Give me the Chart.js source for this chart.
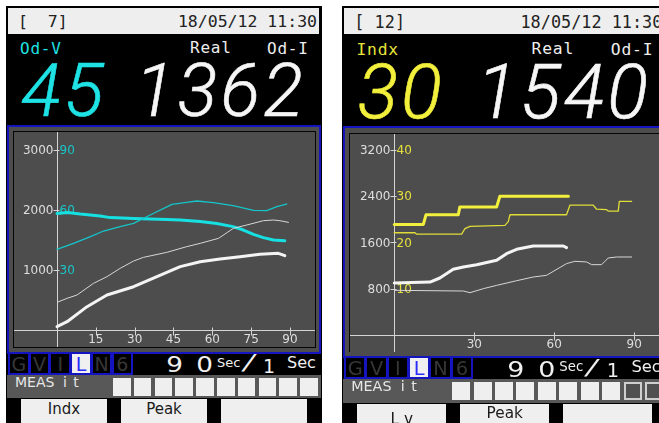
<!DOCTYPE html>
<html>
<head>
<meta charset="utf-8">
<script src="https://cdn.jsdelivr.net/npm/chart.js@4.4.1/dist/chart.umd.min.js"></script>
<style>
  html, body { margin: 0; padding: 0; background: #ffffff; }
  body { width: 659px; height: 423px; overflow: hidden; position: relative; }
  .a { position: absolute; box-sizing: border-box; }
  .t { position: absolute; white-space: pre; line-height: 1; }
  canvas { position: absolute; display: block; }
</style>
</head>
<body>
<script>
// ---------- Screen 1: time trend, Od-V / Od-I ----------
const xTicks1 = [15, 30, 45, 60, 75, 90];
const yTicks1 = [1000, 2000, 3000];          // Od-I scale
const yTicks1V = [30, 60, 90];               // Od-V scale

// Od-V (current run), seconds / volts
const odVTime = [0, 4, 9, 16.7, 20.6, 29.6, 42.4, 47.6, 55.3, 61.7, 68, 72, 75.9, 79.7, 83.6, 88];
const odVNow  = [58.3, 58.8, 58.0, 57.0, 56.2, 55.8, 55.3, 55.0, 54.2, 53.3, 51.7, 50.0, 47.8, 46.2, 45.0, 44.6];
// Od-V (stored run)
const odVRefTime = [0, 6.4, 12.9, 18, 24.4, 29.6, 36, 44.4, 50.1, 54, 60.4, 68, 75.9, 81, 84.9, 88.7];
const odVRef     = [40.3, 43.3, 46.7, 49.5, 51.7, 53.3, 57.5, 62.8, 63.8, 64.5, 63.7, 62.2, 59.8, 59.7, 61.7, 63.0];
// Od-I (current run)
const odI1Time = [0, 3.9, 11.6, 19.3, 29.6, 38.6, 47.6, 55.3, 63, 70.7, 78.4, 85.5, 88];
const odI1Now  = [56, 139, 389, 583, 722, 889, 1056, 1139, 1183, 1222, 1261, 1278, 1239];
// Od-I (stored run)
const odI1RefTime = [0, 3.9, 7.7, 14.1, 19.3, 24.4, 29.6, 33.4, 42.4, 50.1, 55.3, 62.4, 68.1, 73.3, 79.7, 83.6, 86.1, 89.4];
const odI1Ref     = [461, 528, 583, 778, 889, 1028, 1150, 1211, 1294, 1389, 1444, 1528, 1694, 1750, 1822, 1833, 1822, 1794];

// ---------- Screen 2: time trend, Indx / Od-I ----------
const xTicks2 = [30, 60, 90];
const yTicks2 = [800, 1600, 2400, 3200];     // Od-I scale
const yTicks2X = [10, 20, 30, 40];           // Indx scale

const indxTime = [0, 10.9, 11.9, 24, 24.6, 38.4, 39.6, 65.3];
const indxNow  = [23.9, 23.9, 26.0, 26.0, 27.7, 27.7, 30.0, 30.0];
const indxRefTime = [0, 7.75, 8.4, 25.25, 26.5, 28.4, 41.5, 42.75, 43.4, 64.6, 65.9, 74.6, 75.9, 79.6, 80.25, 84, 84.4, 89];
const indxRef     = [22.1, 22.1, 21.8, 21.8, 23.0, 23.5, 23.7, 24.5, 26.0, 26.0, 28.1, 28.1, 27.2, 27.1, 26.8, 26.8, 28.9, 28.9];
const odI2Time = [0, 13.4, 17.1, 22.1, 25.9, 30.9, 38.4, 42.1, 45.9, 52.1, 63.4, 64.6];
const odI2Now  = [897, 914, 984, 1134, 1175, 1215, 1290, 1406, 1481, 1539, 1539, 1510];
const odI2RefTime = [0, 25.9, 28.4, 33.4, 38.4, 45.9, 52.1, 57.1, 64.6, 67.75, 72.1, 74, 77.75, 80.25, 83.4, 89];
const odI2Ref     = [770, 758, 729, 799, 856, 937, 1001, 1030, 1233, 1273, 1262, 1215, 1215, 1331, 1348, 1348];

// Read-outs shown above the trends
const screenNos = ['[  7]', '[ 12]'];
const stamps = ['18/05/12 11:30', '18/05/12 11:30'];
const leftNames = ['Od-V', 'Indx'];
const leftValues = ['45', '30'];
const realValues = ['1362', '1540'];
const modeKeys = ['G', 'V', 'I', 'L', 'N', '6'];
const buttonNames = [['Indx', 'Peak', ''], ['L v', 'Peak', '']];
const measFilled = [10, 8];

const CYAN = '#1ee2e4', YELLOW = '#f2f03c', WHITE = '#f6f6f6';
const BLUE = '#1414c0', PANEL = '#4d4d4d';

const zip = (xs, ys) => xs.map((x, i) => ({ x, y: ys[i] }));

// Crossed axes with tick labels either side of the vertical axis
const crossAxes = {
  id: 'crossAxes',
  beforeDatasetsDraw(chart, args, o) {
    const { ctx, chartArea: a, scales } = chart;
    const xs = scales.x, ys = scales.y, yr = scales.yR;
    const x0 = Math.round(xs.getPixelForValue(0)) + 0.5;
    const y0 = Math.round(ys.getPixelForValue(0)) + 0.5;
    ctx.save();
    ctx.strokeStyle = '#d4d4d4';
    ctx.lineWidth = 1;
    ctx.beginPath();
    ctx.moveTo(a.left, y0); ctx.lineTo(a.right, y0);
    ctx.moveTo(x0, a.top); ctx.lineTo(x0, a.bottom);
    o.xTicks.forEach(t => {
      const px = Math.round(xs.getPixelForValue(t)) + 0.5;
      ctx.moveTo(px, y0 - 3); ctx.lineTo(px, y0 + 5);
    });
    o.yTicks.forEach(v => {
      const py = Math.round(ys.getPixelForValue(v)) + 0.5;
      ctx.moveTo(x0 - 4, py); ctx.lineTo(x0 + 2, py);
    });
    ctx.stroke();
    ctx.font = '12px "DejaVu Sans"';
    ctx.textBaseline = 'middle';
    ctx.textAlign = 'right';
    ctx.fillStyle = '#dedede';
    o.yTicks.forEach(v => ctx.fillText(String(v), x0 - 4, ys.getPixelForValue(v) + 1));
    ctx.textAlign = 'left';
    ctx.fillStyle = o.rightColor;
    o.yRTicks.forEach(v => ctx.fillText(String(v), x0 + 2, yr.getPixelForValue(v) + 1));
    ctx.textAlign = 'center';
    ctx.textBaseline = 'top';
    ctx.fillStyle = '#dedede';
    o.xTicks.forEach(t => ctx.fillText(String(t), xs.getPixelForValue(t), y0 + 3));
    ctx.restore();
  }
};

function lineSet(data, color, width, axis) {
  return {
    data, borderColor: color, borderWidth: width, yAxisID: axis,
    pointRadius: 0, tension: 0, fill: false,
    borderJoinStyle: 'round', borderCapStyle: 'round'
  };
}

function buildScreen(k, ox, oy, sx, sy, chartSpec) {
  const px = (x) => ox + x * sx;
  const py = (y) => oy + y * sy;
  const fs = (s) => s * (sx + sy) / 2;

  const box = (x, y, w, h, css) => {
    const d = document.createElement('div');
    d.className = 'a';
    d.style.cssText = css;
    d.style.left = px(x) + 'px';
    d.style.top = py(y) + 'px';
    d.style.width = (w * sx) + 'px';
    d.style.height = (h * sy) + 'px';
    document.body.appendChild(d);
    return d;
  };
  // text anchored at x (left / right / center) with its cap middle at cy
  const text = (str, x, cy, size, color, opts = {}) => {
    const d = document.createElement('div');
    d.className = 't';
    d.textContent = str;
    const f = fs(size);
    const H = f * 1.2;
    d.style.fontSize = f + 'px';
    d.style.lineHeight = H + 'px';
    d.style.height = H + 'px';
    d.style.color = color;
    d.style.fontFamily = opts.family || '"DejaVu Sans"';
    if (opts.weight) d.style.fontWeight = opts.weight;
    if (opts.style) d.style.fontStyle = opts.style;
    if (opts.spacing) d.style.letterSpacing = opts.spacing + 'px';
    if (opts.stroke) d.style.webkitTextStroke = opts.stroke + 'px ' + color;
    if (opts.transform) { d.style.transform = opts.transform; d.style.transformOrigin = 'center'; }
    d.style.top = (py(cy) - H / 2) + 'px';
    const align = opts.align || 'left';
    if (align === 'left') { d.style.left = px(x) + 'px'; }
    else if (align === 'right') { d.style.left = (px(x) - 400) + 'px'; d.style.width = '400px'; d.style.textAlign = 'right'; }
    else { d.style.left = (px(x) - 200) + 'px'; d.style.width = '400px'; d.style.textAlign = 'center'; }
    document.body.appendChild(d);
    return d;
  };

  const mono = '"DejaVu Sans Mono"';
  // body of the instrument screen
  box(0, 0, 316, 430, 'background:#000;');
  box(2, 2, 311, 26, 'background:#eeeeee;');
  text(screenNos[k], 12, 15.5, 16.5, '#222', { family: mono });
  text(stamps[k], 311, 15.5, 16.5, '#222', { family: mono, align: 'right' });

  text(leftNames[k], 14, 43, 16, chartSpec.accent, { family: mono, spacing: 0.8 });
  text('Real', 184, 42, 16, '#eeeeee', { family: mono, spacing: 0.8 });
  text('Od-I', 261, 43, 16, '#eeeeee', { family: mono, spacing: 0.8 });

  const big = { family: 'Roboto', weight: 300, style: 'italic', spacing: 3, stroke: 0.6 };
  text(leftValues[k], 15, 85.5, 74, chartSpec.bigColor, big);
  text(realValues[k], 300, 85.5, 74, WHITE, Object.assign({ align: 'right' }, big));

  // trend frame
  box(1, 119, 314, 229, 'background:' + PANEL + ';border:2px solid ' + BLUE + ';');
  box(7, 125, 303, 217, 'border:1px solid #050505;');
  const cv = document.createElement('canvas');
  const cw = Math.round(301 * sx), ch = Math.round(215 * sy);
  cv.width = cw; cv.height = ch;
  cv.style.left = px(8) + 'px'; cv.style.top = py(126) + 'px';
  cv.style.width = cw + 'px'; cv.style.height = ch + 'px';
  cv.style.background = PANEL;
  document.body.appendChild(cv);

  new Chart(cv.getContext('2d'), {
    type: 'line',
    data: { datasets: chartSpec.datasets },
    options: {
      responsive: false, animation: false, maintainAspectRatio: false,
      layout: { padding: 0 },
      plugins: {
        legend: { display: false }, tooltip: { enabled: false },
        crossAxes: { xTicks: chartSpec.xTicks, yTicks: chartSpec.yTicks, yRTicks: chartSpec.yRTicks, rightColor: chartSpec.tickColor }
      },
      scales: {
        x: { type: 'linear', display: false, min: -16.61, max: 99.66 },
        y: { type: 'linear', display: false, min: chartSpec.yMin, max: chartSpec.yMax },
        yR: { type: 'linear', display: false, position: 'right', min: chartSpec.yMin / chartSpec.ratio, max: chartSpec.yMax / chartSpec.ratio }
      }
    },
    plugins: [crossAxes]
  });

  // range keys
  modeKeys.forEach((m, i) => {
    const on = m === 'L';
    box(2 + i * 20.7, 346, 21.7, 23, 'border:2px solid ' + BLUE + ';background:' + (on ? '#f0f0f0' : '#000') + ';');
    text(m, 2 + i * 20.7 + 10.85, 358.5, 19, on ? '#2a2aff' : '#363636', { align: 'center' });
  });
  text('9', 162, 359.5, 21, '#f0f0f0', { transform: 'scaleX(1.25)' });
  text('0', 192, 359.5, 21, '#f0f0f0', { transform: 'scaleX(1.25)' });
  text('Sec', 211, 356.5, 13, '#f0f0f0');
  text('/', 243, 357.5, 21, '#f0f0f0', { align: 'center', transform: 'scaleX(2.4)', weight: 300 });
  text('1', 257, 360.5, 19, '#f0f0f0');
  text('Sec', 281, 357, 16, '#f0f0f0');

  // measurement row
  box(1, 369, 314, 23, 'background:#585858;');
  text('MEAS', 9, 376.5, 14, '#e6e6e6');
  text('i t', 57, 376.5, 14, '#e6e6e6', { spacing: 1 });
  for (let i = 0; i < 10; i++) {
    const on = i < measFilled[k];
    box(107 + i * 20.8, 372, 17.5, 17.5, on ? 'background:#efefef;' : 'background:#505050;border:2px solid #cfcfcf;');
  }

  // soft keys
  buttonNames[k].forEach((b, i) => {
    box(15 + i * 100, 393, 86, 40, 'background:#efefef;');
    if (b) text(b, 58 + i * 100, i === 0 && k === 1 ? 408 : 402.5, 15, '#1a1a1a', { align: 'center' });
  });
}

buildScreen(0, 6, 6, 1, 1, {
  accent: CYAN, bigColor: CYAN, tickColor: '#19c6ca',
  xTicks: xTicks1, yTicks: yTicks1, yRTicks: yTicks1V,
  yMin: -283, yMax: 3300, ratio: 1000 / 30,
  datasets: [
    lineSet(zip(odI1RefTime, odI1Ref), '#d6d6d6', 1, 'y'),
    lineSet(zip(odVRefTime, odVRef), '#14c4c8', 1.3, 'yR'),
    lineSet(zip(odI1Time, odI1Now), '#f4f4f4', 3, 'y'),
    lineSet(zip(odVTime, odVNow), '#16e0e2', 3, 'yR')
  ]
});

buildScreen(1, 342, 6, 1.03, 1.012, {
  accent: '#e8e43a', bigColor: YELLOW, tickColor: '#e6e03a',
  xTicks: xTicks2, yTicks: yTicks2, yRTicks: yTicks2X,
  yMin: -299, yMax: 3480, ratio: 80,
  datasets: [
    lineSet(zip(odI2RefTime, odI2Ref), '#d6d6d6', 1, 'y'),
    lineSet(zip(indxRefTime, indxRef), '#e0dc38', 1.3, 'yR'),
    lineSet(zip(odI2Time, odI2Now), '#f4f4f4', 3, 'y'),
    lineSet(zip(indxTime, indxNow), '#f2f03c', 3, 'yR')
  ]
});
</script>
</body>
</html>
